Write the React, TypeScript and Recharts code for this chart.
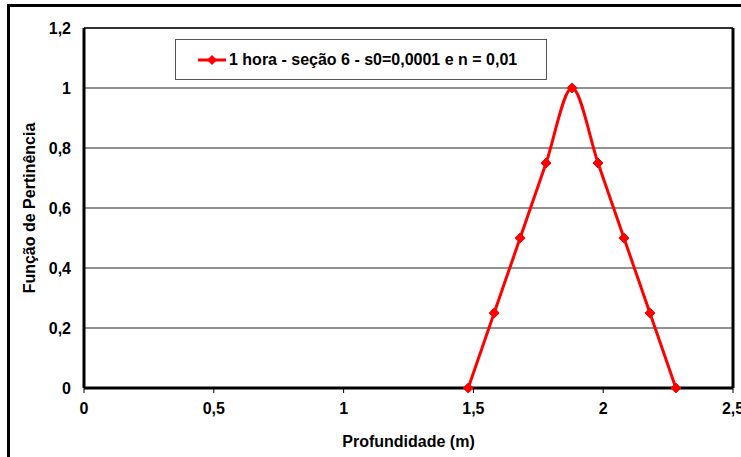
import React from 'react'
import {
  LineChart,
  Line,
  XAxis,
  YAxis,
  CartesianGrid,
  ReferenceLine,
} from 'recharts'

const depths = [1.48, 1.58, 1.68, 1.78, 1.88, 1.98, 2.08, 2.18, 2.28]
const membership = [0, 0.25, 0.5, 0.75, 1, 0.75, 0.5, 0.25, 0]
const xTicks = [0, 0.5, 1, 1.5, 2, 2.5]
const yTicks = [0, 0.2, 0.4, 0.6, 0.8, 1, 1.2]
const seriesName = '1 hora - seção 6 - s0=0,0001 e n = 0,01'

const data = depths.map((d, i) => ({ depth: d, value: membership[i] }))

const font = 'Arial, "Liberation Sans", sans-serif'
const RED = '#ff0000'
const FS = 16

const fmt = (v: number) => String(v).replace('.', ',')

const Diamond = (props: any) => {
  const { cx, cy } = props
  if (cx == null || cy == null) return null
  const r = 5
  return (
    <polygon
      points={`${cx},${cy - r} ${cx + r},${cy} ${cx},${cy + r} ${cx - r},${cy}`}
      fill={RED}
      stroke={RED}
      strokeWidth={1}
    />
  )
}

const LegendBox = () => (
  <div
    style={{
      position: 'absolute',
      left: 175,
      top: 39,
      border: '1.5px solid #555',
      width: 372,
      height: 41,
      boxSizing: 'border-box',
      display: 'flex',
      alignItems: 'center',
      paddingLeft: 22,
      fontFamily: font,
      fontWeight: 'bold',
      fontSize: FS,
      color: '#000',
      background: '#fff',
    }}
  >
    <svg width={28} height={12} style={{ marginRight: 3 }}>
      <line x1={0} y1={6} x2={28} y2={6} stroke={RED} strokeWidth={3} />
      <polygon points="14,1 19,6 14,11 9,6" fill={RED} />
    </svg>
    <span>{seriesName}</span>
  </div>
)

export default function App() {
  return (
    <div
      style={{
        position: 'absolute',
        left: 0,
        top: 0,
        width: 741,
        height: 457,
        overflow: 'hidden',
        background: '#fff',
      }}
    >
      <div
        style={{
          position: 'absolute',
          left: 7,
          top: 4,
          width: 800,
          height: 500,
          border: '3px solid #000',
        }}
      />
      <div style={{ position: 'absolute', left: 0, top: 0 }}>
        <LineChart
          width={741}
          height={457}
          data={data}
          margin={{ top: 28, right: 8, left: 0, bottom: 39 }}
        >
          <CartesianGrid horizontal vertical={false} stroke="#222" strokeWidth={1} />
          <XAxis
            dataKey="depth"
            type="number"
            domain={[0, 2.5]}
            ticks={xTicks}
            tickFormatter={fmt}
            height={30}
            axisLine={{ stroke: '#000', strokeWidth: 3 }}
            tickLine={{ stroke: '#000', strokeWidth: 1 }}
            tickSize={5}
            tickMargin={10}
            tick={{ fill: '#000', fontFamily: font, fontWeight: 'bold', fontSize: FS }}
            interval={0}
            allowDataOverflow
            label={{
              value: 'Profundidade (m)',
              position: 'insideBottom',
              offset: -29,
              fill: '#000',
              fontFamily: font,
              fontWeight: 'bold',
              fontSize: FS,
            }}
          />
          <YAxis
            type="number"
            domain={[0, 1.2]}
            ticks={yTicks}
            tickFormatter={fmt}
            width={84}
            axisLine={{ stroke: '#000', strokeWidth: 3 }}
            tickLine={false}
            tickSize={6}
            tickMargin={7}
            tick={{ fill: '#000', fontFamily: font, fontWeight: 'bold', fontSize: FS }}
            interval={0}
            label={{
              value: 'Função de Pertinência',
              angle: -90,
              position: 'insideLeft',
              offset: 29,
              style: { textAnchor: 'middle' },
              fill: '#000',
              fontFamily: font,
              fontWeight: 'bold',
              fontSize: FS,
            }}
          />
          <ReferenceLine y={1.2} stroke="#333" strokeWidth={2} />
          <ReferenceLine x={2.5} stroke="#000" strokeWidth={3} />
          <Line
            type="monotone"
            dataKey="value"
            name={seriesName}
            stroke={RED}
            strokeWidth={3}
            dot={<Diamond />}
            activeDot={false}
            isAnimationActive={false}
          />
        </LineChart>
      </div>
      <LegendBox />
    </div>
  )
}
